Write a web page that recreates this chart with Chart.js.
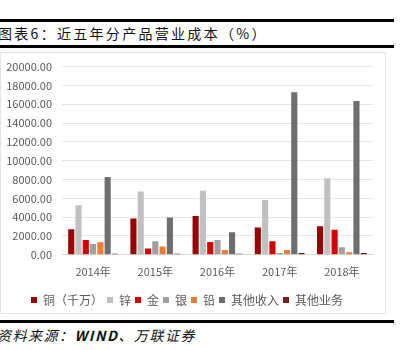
<!DOCTYPE html>
<html>
<head>
<meta charset="utf-8">
<script src="https://cdn.jsdelivr.net/npm/chart.js@4"></script>
<style>
  body { margin: 0; background: #fff; width: 401px; height: 350px; position: relative; overflow: hidden; font-family: "Noto Sans CJK SC", sans-serif; }
  .rule { position: absolute; left: 0; background: #000; }
  #title { position: absolute; left: -2px; top: 23px; font-size: 14px; letter-spacing: 2.3px; color: #111; line-height: 20px; }
  #box { position: absolute; left: 0; top: 52px; width: 386px; height: 262px; border: 1px solid #e4e4e4; box-sizing: border-box; }
  #c { position: absolute; left: 0; top: -3px; }
  #src { position: absolute; left: -3px; top: 325px; font-size: 14px; font-style: italic; letter-spacing: 1.5px; color: #111; line-height: 20px; }
</style>
</head>
<body>
<div class="rule" style="top:19px;width:394px;height:3px"></div>
<div id="title">图表6：近五年分产品营业成本（%）</div>
<div class="rule" style="top:45px;width:394px;height:3px"></div>
<div id="box"><canvas id="c" width="384" height="266"></canvas></div>
<div class="rule" style="top:320px;width:394px;height:3px"></div>
<div id="src">资料来源：<b>WIND</b>、万联证券</div>
<script>
var years = ['2014年', '2015年', '2016年', '2017年', '2018年'];
var seriesNames = ['铜（千万）', '锌', '金', '银', '铅', '其他收入', '其他业务'];
var copper = [2720, 3870, 4120, 2900, 3040];
var zinc = [5270, 6740, 6800, 5830, 8130];
var gold = [1570, 660, 1360, 1430, 2650];
var silver = [1150, 1430, 1570, 200, 800];
var lead = [1330, 870, 520, 520, 280];
var otherIncome = [8270, 3970, 2400, 17280, 16340];
var otherBusiness = [100, 100, 100, 200, 200];
var yTicks = [0, 2000, 4000, 6000, 8000, 10000, 12000, 14000, 16000, 18000, 20000];

var colors = ['#9c0000', '#c0c0c0', '#d60000', '#a0a0a0', '#ee7d32', '#6e6e6e', '#7a1c1c'];
var values = [copper, zinc, gold, silver, lead, otherIncome, otherBusiness];

var datasets = seriesNames.map(function (name, i) {
    return {
        label: name,
        data: values[i],
        backgroundColor: colors[i],
        categoryPercentage: 0.82,
        barPercentage: 0.84
    };
});

var ctx = document.getElementById('c').getContext('2d');
new Chart(ctx, {
    type: 'bar',
    data: { labels: years, datasets: datasets },
    options: {
        responsive: false,
        animation: false,
        layout: { padding: { top: 1, right: 12, left: 0, bottom: 0 } },
        plugins: {
            tooltip: { enabled: false },
            legend: {
                position: 'bottom',
                labels: {
                    boxWidth: 6,
                    boxHeight: 6,
                    padding: 4,
                    color: '#595959',
                    font: { size: 12, family: '"Noto Sans CJK SC"' }
                }
            }
        },
        scales: {
            x: {
                grid: { display: false },
                border: { color: '#d9d9d9' },
                afterFit: function (axis) { axis.height += 10; },
                ticks: { color: '#595959', font: { size: 11, family: '"Noto Sans CJK SC"' }, padding: 2 }
            },
            y: {
                min: 0,
                max: 20000,
                afterBuildTicks: function (axis) {
                    axis.ticks = yTicks.map(function (v) { return { value: v }; });
                },
                afterFit: function (axis) { axis.width = 61; },
                grid: { color: '#e6e6e6', drawTicks: false },
                border: { display: false },
                ticks: {
                    color: '#595959',
                    padding: 10,
                    font: { size: 11, family: '"Noto Sans CJK SC"' },
                    callback: function (v) { return Number(v).toFixed(2); }
                }
            }
        }
    }
});
</script>
</body>
</html>
